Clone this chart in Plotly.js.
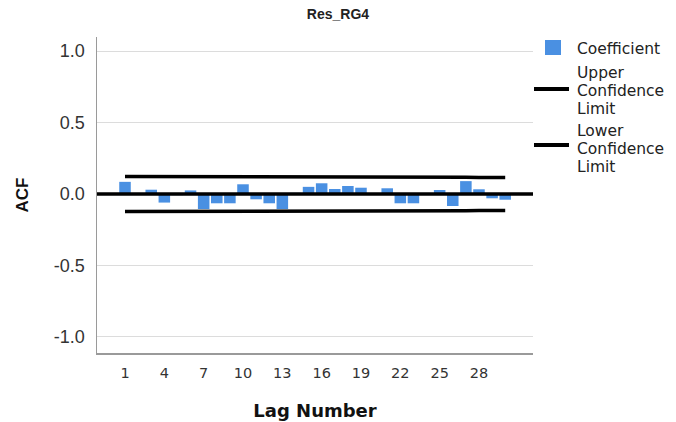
<!DOCTYPE html>
<html>
<head>
<meta charset="utf-8">
<script src="https://cdn.plot.ly/plotly-3.0.1.min.js"></script>
<style>html,body{margin:0;padding:0;background:#fff;}#chart{width:676px;height:422px;}</style>
</head>
<body>
<div id="chart"></div>
<script>
// ---- data ----
var lags = [1,2,3,4,5,6,7,8,9,10,11,12,13,14,15,16,17,18,19,20,21,22,23,24,25,26,27,28,29,30];
var coefficient = [0.085,0.005,0.030,-0.060,-0.008,0.025,-0.105,-0.065,-0.065,0.068,
                   -0.037,-0.065,-0.105,0.008,0.050,0.075,0.035,0.056,0.044,-0.005,
                   0.040,-0.065,-0.065,0.006,0.028,-0.084,0.090,0.033,-0.030,-0.040];
var upperLimit = [0.123,0.123,0.123,0.122,0.122,0.122,0.122,0.121,0.121,0.121,
                  0.121,0.120,0.120,0.120,0.120,0.119,0.119,0.119,0.119,0.118,
                  0.118,0.118,0.118,0.117,0.117,0.117,0.117,0.116,0.116,0.116];
var lowerLimit = [-0.123,-0.123,-0.123,-0.122,-0.122,-0.122,-0.122,-0.121,-0.121,-0.121,
                  -0.121,-0.120,-0.120,-0.120,-0.120,-0.119,-0.119,-0.119,-0.119,-0.118,
                  -0.118,-0.118,-0.118,-0.117,-0.117,-0.117,-0.117,-0.116,-0.116,-0.116];
var xTickVals = [1,4,7,10,13,16,19,22,25,28];
var yTickVals = [-1.0,-0.5,0.0,0.5,1.0];
var yTickText = ['-1.0','-0.5','0.0','0.5','1.0'];
var legendLabels = [['Coefficient'], ['Upper','Confidence','Limit'], ['Lower','Confidence','Limit']];
var chartTitle = 'Res_RG4';
var xTitle = 'Lag Number';
var yTitle = 'ACF';

// ---- styling / layout ----
var BAR = '#4a90e2';
var W = 676, H = 422, L = 97, R = 533, T = 37, B = 353;
function px(x){ return (x - L) / (R - L); }
function py(y){ return (B - y) / (B - T); }

var traces = [
  {type:'bar', x:lags, y:coefficient, name:'Coefficient', marker:{color:BAR, line:{width:0}},
   width:0.88, showlegend:false, hoverinfo:'x+y'},
  {type:'scatter', mode:'lines', x:lags, y:upperLimit, name:'Upper Confidence Limit',
   line:{color:'#000', width:3.5}, showlegend:false},
  {type:'scatter', mode:'lines', x:lags, y:lowerLimit, name:'Lower Confidence Limit',
   line:{color:'#000', width:3.5}, showlegend:false}
];

var legFont = {family:'DejaVu Sans, sans-serif', size:15.5, color:'#222'};
var annotations = [];
var textRows = [[49],[73,91,109],[131,149,167]];
for (var g = 0; g < legendLabels.length; g++) {
  for (var r = 0; r < legendLabels[g].length; r++) {
    annotations.push({xref:'paper', yref:'paper', x:px(576), y:py(textRows[g][r]),
      xanchor:'left', yanchor:'middle', text:legendLabels[g][r], showarrow:false,
      font:legFont, borderpad:0});
  }
}

var shapes = [
  {type:'line', xref:'paper', yref:'y', x0:0, x1:1, y0:0, y1:0, line:{color:'#000', width:3.5}, layer:'above'},
  {type:'rect', xref:'paper', yref:'paper', x0:px(545), x1:px(561), y0:py(40), y1:py(55), fillcolor:BAR, line:{width:0}},
  {type:'line', xref:'paper', yref:'paper', x0:px(534), x1:px(569), y0:py(89), y1:py(89), line:{color:'#000', width:4}},
  {type:'line', xref:'paper', yref:'paper', x0:px(534), x1:px(569), y0:py(145), y1:py(145), line:{color:'#000', width:4}}
];

var layout = {
  width:W, height:H,
  margin:{l:L, r:W-R, t:T, b:H-B, pad:0},
  paper_bgcolor:'#fff', plot_bgcolor:'#fff',
  showlegend:false,
  bargap:0.12,
  title:{text:'<b>'+chartTitle+'</b>', x:0.5, xref:'container', xanchor:'center',
         y:1-14/H, yref:'container', yanchor:'middle',
         font:{family:'Liberation Sans, Arial, sans-serif', size:14, color:'#222'}},
  xaxis:{range:[-1.136, 32.12], tickvals:xTickVals, ticktext:xTickVals.map(String),
         showgrid:false, zeroline:false, showline:true, linecolor:'#9a9a9a', linewidth:1.5,
         ticks:'', ticklabelstandoff:6,
         tickfont:{family:'DejaVu Sans, sans-serif', size:14.5, color:'#333'},
         title:{text:'<b>'+xTitle+'</b>', standoff:24,
                font:{family:'DejaVu Sans, sans-serif', size:18, color:'#111'}},
         fixedrange:true},
  yaxis:{range:[-1.112, 1.098], tickvals:yTickVals, ticktext:yTickText,
         showgrid:true, gridcolor:'#dcdcdc', gridwidth:1, zeroline:false,
         showline:true, linecolor:'#9a9a9a', linewidth:1.5, ticks:'', ticklabelstandoff:7,
         tickfont:{family:'Liberation Sans, Arial, sans-serif', size:18, color:'#333'},
         title:{text:'<b>'+yTitle+'</b>', standoff:21,
                font:{family:'Liberation Sans, Arial, sans-serif', size:17, color:'#111'}},
         fixedrange:true},
  annotations:annotations,
  shapes:shapes
};

Plotly.newPlot('chart', traces, layout, {displayModeBar:false, staticPlot:true});
</script>
</body>
</html>
